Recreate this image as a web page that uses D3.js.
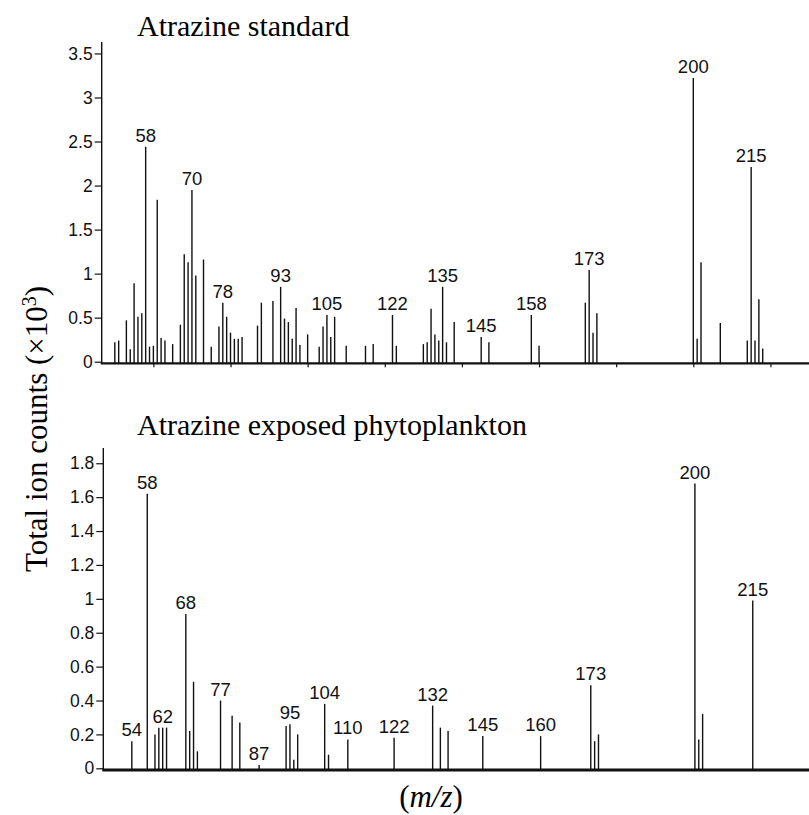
<!DOCTYPE html>
<html>
<head>
<meta charset="utf-8">
<script src="https://cdn.jsdelivr.net/npm/d3@7"></script>
<style>
  html, body { margin: 0; padding: 0; background: #fff; }
  svg { display: block; }
</style>
</head>
<body>
<svg id="chart" width="809" height="815"></svg>
<script>
// ---------- data ----------
const topMz  = [50,51,53,54,55,56,57,58,59,60,61,62,63,65,67,68,69,70,71,73,75,77,78,79,80,81,82,83,87,88,91,93,94,95,96,97,98,100,103,104,105,106,107,110,115,117,122,123,130,131,132,133,134,135,136,138,145,147,158,160,172,173,174,175,200,201,202,207,214,215,216,217,218];
const topVal = [0.22,0.24,0.47,0.14,0.89,0.51,0.55,2.44,0.17,0.18,1.84,0.27,0.24,0.20,0.42,1.22,1.13,1.95,0.98,1.16,0.17,0.40,0.67,0.51,0.33,0.26,0.26,0.28,0.41,0.67,0.69,0.85,0.49,0.45,0.26,0.61,0.19,0.31,0.17,0.40,0.53,0.28,0.51,0.18,0.18,0.20,0.53,0.18,0.20,0.22,0.60,0.31,0.24,0.85,0.22,0.45,0.28,0.22,0.53,0.18,0.67,1.04,0.33,0.55,3.22,0.26,1.13,0.44,0.24,2.21,0.24,0.71,0.15];
const topLabels = [58,70,78,93,105,122,135,145,158,173,200,215];
const topTicks = [0,0.5,1,1.5,2,2.5,3,3.5];

const botMz  = [54,58,60,61,62,63,68,69,70,71,77,80,82,87,94,95,96,97,104,105,110,122,132,134,136,145,160,173,174,175,200,201,202,215];
const botVal = [0.16,1.62,0.20,0.24,0.24,0.24,0.91,0.22,0.51,0.10,0.40,0.31,0.27,0.02,0.25,0.26,0.05,0.20,0.38,0.08,0.17,0.18,0.37,0.24,0.22,0.19,0.19,0.49,0.16,0.20,1.68,0.17,0.32,0.99];
const botLabels = [54,58,62,68,77,87,95,104,110,122,132,145,160,173,200,215];
const botTicks = [0,0.2,0.4,0.6,0.8,1,1.2,1.4,1.6,1.8];

const xTicks = [60,80,100,120,140,160,180,200,220];

// ---------- layout ----------
const svg = d3.select("#chart");
const W = 809;
const sans = "Arial, 'Liberation Sans', Helvetica, sans-serif";
const serif = "'Times New Roman', 'Liberation Serif', Times, serif";
const ink = "#111";

function panel(opts) {
  const g = svg.append("g").attr("transform", `translate(${opts.dx},0)`);
  const x = d3.scaleLinear().domain([46.6, 230]).range([101.7, W]);
  const y = d3.scaleLinear().domain([0, opts.yMax]).range([opts.y0, opts.yTop]);
  const data = opts.mz.map((m, i) => ({ m, v: opts.val[i] }));

  // bars (sticks)
  g.selectAll("line.bar").data(data).join("line")
    .attr("class", "bar")
    .attr("x1", d => x(d.m)).attr("x2", d => x(d.m))
    .attr("y1", opts.axisY).attr("y2", d => y(d.v))
    .attr("stroke", ink).attr("stroke-width", 1.4);

  // peak labels
  const lab = data.filter(d => opts.labels.includes(d.m));
  g.selectAll("text.pk").data(lab).join("text")
    .attr("class", "pk")
    .attr("x", d => x(d.m)).attr("y", d => y(d.v) - 5)
    .attr("text-anchor", "middle")
    .attr("font-family", sans).attr("font-size", 18.5).attr("fill", ink)
    .text(d => d.m);

  // y axis
  const ya = g.append("g").attr("transform", `translate(${x.range()[0]},0)`)
    .call(d3.axisLeft(y).tickValues(opts.ticks).tickSize(7).tickPadding(2)
      .tickFormat(d => String(+d.toFixed(1))));
  ya.select(".domain").remove();
  ya.selectAll(".tick line").attr("stroke", ink).attr("stroke-width", 1.2);
  ya.selectAll(".tick text").attr("font-family", sans).attr("font-size", 17.5).attr("fill", ink);
  g.append("line")
    .attr("x1", x.range()[0]).attr("x2", x.range()[0])
    .attr("y1", y(opts.yMax)).attr("y2", opts.axisY)
    .attr("stroke", ink).attr("stroke-width", 1.4);

  // x axis
  if (opts.xticks) {
    const xa = g.append("g").attr("transform", `translate(0,${opts.axisY})`)
      .call(d3.axisBottom(x).tickValues(xTicks).tickSize(4).tickFormat(""));
    xa.select(".domain").remove();
    xa.selectAll(".tick line").attr("stroke", ink).attr("stroke-width", 1.2);
  }
  g.append("line")
    .attr("x1", x.range()[0] - 1).attr("x2", W)
    .attr("y1", opts.axisY).attr("y2", opts.axisY)
    .attr("stroke", ink).attr("stroke-width", opts.axisW);

  // title
  svg.append("text")
    .attr("x", 137).attr("y", opts.titleY)
    .attr("font-family", serif).attr("font-size", 30).attr("fill", "#000")
    .text(opts.title);
}

panel({ dx: 0, mz: topMz, val: topVal, labels: topLabels, ticks: topTicks,
        yMax: 3.63, y0: 361.7, yTop: 42, axisY: 363.3, axisW: 2.2, xticks: true,
        title: "Atrazine standard", titleY: 36 });
panel({ dx: 1.6, mz: botMz, val: botVal, labels: botLabels, ticks: botTicks,
        yMax: 1.89, y0: 768.3, yTop: 448, axisY: 770, axisW: 2.8, xticks: false,
        title: "Atrazine exposed phytoplankton", titleY: 435 });

// y axis title
const yt = svg.append("text")
  .attr("transform", "translate(47,429) rotate(-90)")
  .attr("text-anchor", "middle")
  .attr("font-family", serif).attr("font-size", 31).attr("fill", "#000");
yt.append("tspan").text("Total ion counts (×10");
yt.append("tspan").attr("baseline-shift", "super").attr("font-size", 20).text("3");
yt.append("tspan").text(")");

// x axis title
const xt = svg.append("text")
  .attr("x", 431).attr("y", 807)
  .attr("text-anchor", "middle")
  .attr("font-family", serif).attr("font-size", 31).attr("fill", "#000");
xt.append("tspan").text("(");
xt.append("tspan").attr("font-style", "italic").text("m/z");
xt.append("tspan").text(")");
</script>
</body>
</html>
